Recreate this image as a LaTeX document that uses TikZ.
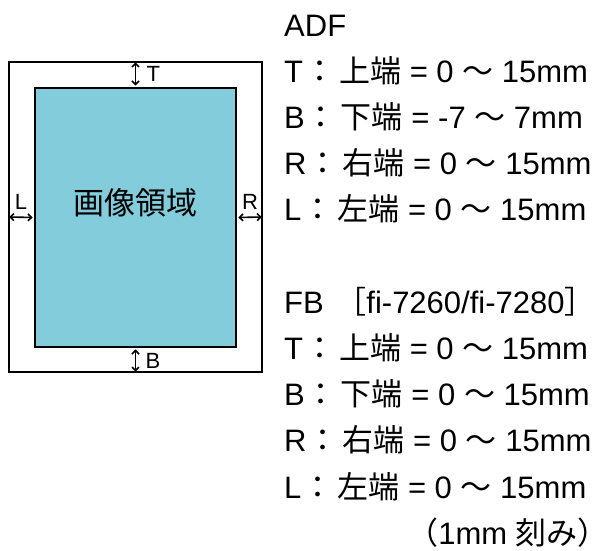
\documentclass[tikz,border=0pt]{standalone}
\usepackage{fontspec}
\setmainfont{Liberation Sans}
\newfontfamily\cjk{Noto Sans CJK JP}
\usetikzlibrary{arrows.meta,positioning}
\definecolor{areablue}{RGB}{130,204,220}
\newcommand{\jcolon}{\hspace{1pt}{\cjk ：}\hspace{4pt}}

\begin{document}
\begin{tikzpicture}[
  x=1pt, y=1pt,
  node distance=46.2pt,
  sheet/.style={rectangle, draw, line width=2.4pt, minimum width=253pt, minimum height=310pt, inner sep=0pt},
  area/.style={rectangle, draw, line width=1.8pt, fill=areablue, minimum width=201pt, minimum height=259pt, inner sep=0pt},
  areatext/.style={inner sep=0pt, font=\cjk\fontsize{31}{31}\selectfont},
  lab/.style={inner sep=0pt, font=\fontsize{22}{22}\selectfont},
  spec/.style={inner sep=0pt, anchor=west, text height=22.3pt, text depth=0pt, font=\fontsize{31}{31}\selectfont},
  gap/.style={{Straight Barb[length=3.5pt,width=7pt]}-{Straight Barb[length=3.5pt,width=7pt]}, line width=1.6pt, shorten <=1.5pt, shorten >=1.5pt}
]
\useasboundingbox (0,0) rectangle (616,-551);

% left: margins round the image area
\node[sheet] (doc) at (135.5,-217) {};
\node[area] (img) at (135.5,-217.5) {};
\node[areatext] (imgname) at ([yshift=15pt]img.center) {画像領域};

\draw[gap] (doc.north) -- coordinate (tmid) (img.north);
\draw[gap] (img.south) -- coordinate (bmid) (doc.south);
\draw[gap] (doc.west) -- coordinate (lmid) (img.west);
\draw[gap] (img.east) -- coordinate (rmid) (doc.east);
\node[lab, right=11pt of tmid] (tlab) {T};
\node[lab, right=10pt of bmid] (blab) {B};
\node[lab, above=8pt of lmid] (llab) {L};
\node[lab, above=8pt of rmid] (rlab) {R};

% right: ranges
\node[spec] (adf) at (284,-25) {ADF};
\node[spec, below=of adf.west, anchor=west] (adfT) {T\jcolon{\cjk 上端} = 0 {\cjk ～} 15mm};
\node[spec, below=of adfT.west, anchor=west] (adfB) {B\jcolon{\cjk 下端} = -7 {\cjk ～} 7mm};
\node[spec, below=of adfB.west, anchor=west] (adfR) {R\jcolon{\cjk 右端} = 0 {\cjk ～} 15mm};
\node[spec, below=of adfR.west, anchor=west] (adfL) {L\jcolon{\cjk 左端} = 0 {\cjk ～} 15mm};

\node[spec, below=92.4pt of adfL.west, anchor=west] (fb) {FB\hspace{3pt} {\cjk ［}fi-7260/fi-7280{\cjk ］}};
\node[spec, below=of fb.west, anchor=west] (fbT) {T\jcolon{\cjk 上端} = 0 {\cjk ～} 15mm};
\node[spec, below=of fbT.west, anchor=west] (fbB) {B\jcolon{\cjk 下端} = 0 {\cjk ～} 15mm};
\node[spec, below=of fbB.west, anchor=west] (fbR) {R\jcolon{\cjk 右端} = 0 {\cjk ～} 15mm};
\node[spec, below=of fbR.west, anchor=west] (fbL) {L\jcolon{\cjk 左端} = 0 {\cjk ～} 15mm};
\node[spec, anchor=east] (unit) at (609,-533) {{\cjk （}1mm {\cjk 刻み）}};
\end{tikzpicture}
\end{document}
